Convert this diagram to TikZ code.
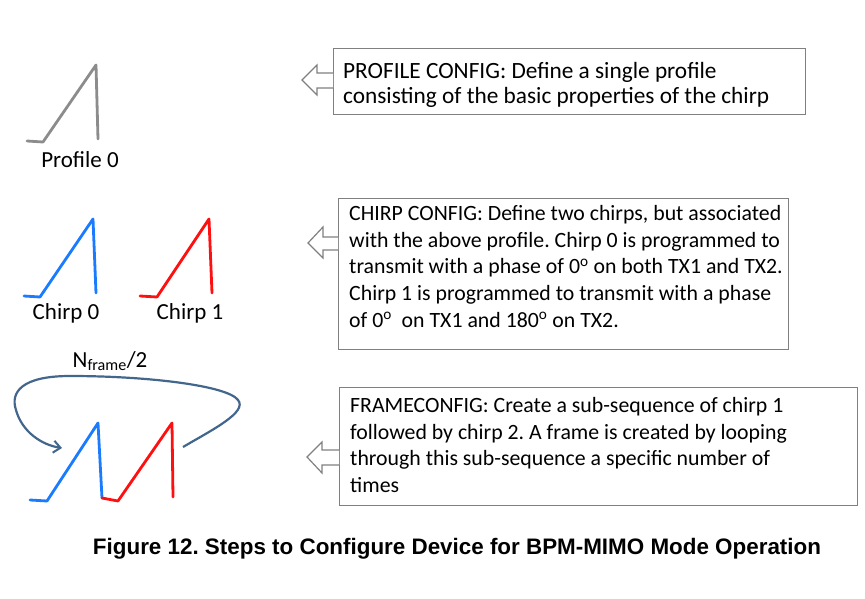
\documentclass[tikz,border=0pt]{standalone}
\usepackage{fontspec}
\setmainfont{Carlito}
\newfontfamily\capfont{Liberation Sans}
\usetikzlibrary{arrows.meta,calc}
\frenchspacing
\definecolor{profgray}{HTML}{8C8C8C}
\definecolor{chblue}{HTML}{1A7BFF}
\definecolor{chred}{HTML}{FF1010}
\definecolor{loopc}{HTML}{42668C}
\definecolor{boxgray}{HTML}{808080}
\tikzset{
  wave/.style={line width=2.8pt, line join=round, line cap=round},
  cfgbox/.style={draw=boxgray, line width=1.2pt, fill=white, inner sep=0pt, anchor=north west},
  cfgtxt/.style={anchor=north west, align=left, inner sep=0pt, font=\fontsize{21.8}{26.7}\selectfont},
  lbl/.style={font=\fontsize{23}{27}\selectfont, inner sep=0pt},
  blockarrow/.style={draw=boxgray, line width=1.2pt, fill=white, line join=miter}
}
\begin{document}
\frenchspacing
\begin{tikzpicture}[x=1pt,y=-1pt]
\useasboundingbox (0,0) rectangle (865,599);

% Profile 0
\draw[wave, profgray] (27,141) -- (43,142) -- (96,65) -- (98,139);
\node[lbl] (p0) at (80,160) {Profile 0};

% Chirp 0 / Chirp 1
\draw[wave, chblue] (24,296) -- (40,297) -- (93,219) -- (96,293);
\draw[wave, chred] (140,296) -- (157,297) -- (209,219) -- (212,293);
\node[lbl] (c0) at (66,313) {Chirp 0};
\node[lbl] (c1) at (190,313) {Chirp 1};

% Frame
\draw[wave, chblue] (30,500) -- (47,501) -- (98,423) -- (102,498);
\draw[wave, chred] (102,498) -- (118,501) -- (172,423) -- (173,497);
\coordinate (ls) at (183,447);
\coordinate (le) at (62,448);
\draw[loopc, line width=2.2pt, -{Straight Barb[length=7pt,width=12pt,line width=2pt]}]
  (ls) .. controls (212,430) and (248,412) .. (238,400)
       .. controls (228,386) and (150,376) .. (70,376)
       .. controls (22,376) and (10,392) .. (16,410)
       .. controls (22,432) and (42,445) .. (le);
\node[lbl] (nf) at (110,361) {N\textsubscript{frame}/2};

% Boxes
\node[cfgbox, minimum width=472pt, minimum height=66pt] (b1) at (333,48) {};
\node[cfgtxt, font=\fontsize{23.3}{25.5}\selectfont] (t1) at ($(b1.north west)+(10,14)$) {PROFILE CONFIG: Define a single profile\\consisting of the basic properties of the chirp};
\draw[blockarrow] (b1.west |- 0,73) -- (317,73) -- (317,65) -- (302,80) -- (317,95) -- (317,88) -- (b1.west |- 0,88);

\node[cfgbox, minimum width=450pt, minimum height=151pt] (b2) at (338,198) {};
\node[cfgtxt] (t2) at ($(b2.north west)+(11,7)$) {CHIRP CONFIG: Define two chirps, but associated\\with the above profile. Chirp 0 is programmed to\\transmit with a phase of 0\textsuperscript{o} on both TX1 and TX2.\\Chirp 1 is programmed to transmit with a phase\\of 0\textsuperscript{o}\ \ on TX1 and 180\textsuperscript{o} on TX2.};
\draw[blockarrow] (b2.west |- 0,237) -- (323,237) -- (323,227) -- (308,243) -- (323,258) -- (323,250) -- (b2.west |- 0,250);

\node[cfgbox, minimum width=518pt, minimum height=118pt] (b3) at (339,387) {};
\node[cfgtxt] (t3) at ($(b3.north west)+(11,10)$) {FRAMECONFIG: Create a sub-sequence of chirp 1\\followed by chirp 2. A frame is created by looping\\through this sub-sequence a specific number of\\times};
\draw[blockarrow] (b3.west |- 0,450) -- (322,450) -- (322,442) -- (307,457) -- (322,473) -- (322,465) -- (b3.west |- 0,465);

% Caption
\node[font=\capfont\bfseries\fontsize{22.4}{26}\selectfont, inner sep=0pt] (cap) at (457,549) {Figure 12. Steps to Configure Device for BPM-MIMO Mode Operation};
\end{tikzpicture}
\end{document}
